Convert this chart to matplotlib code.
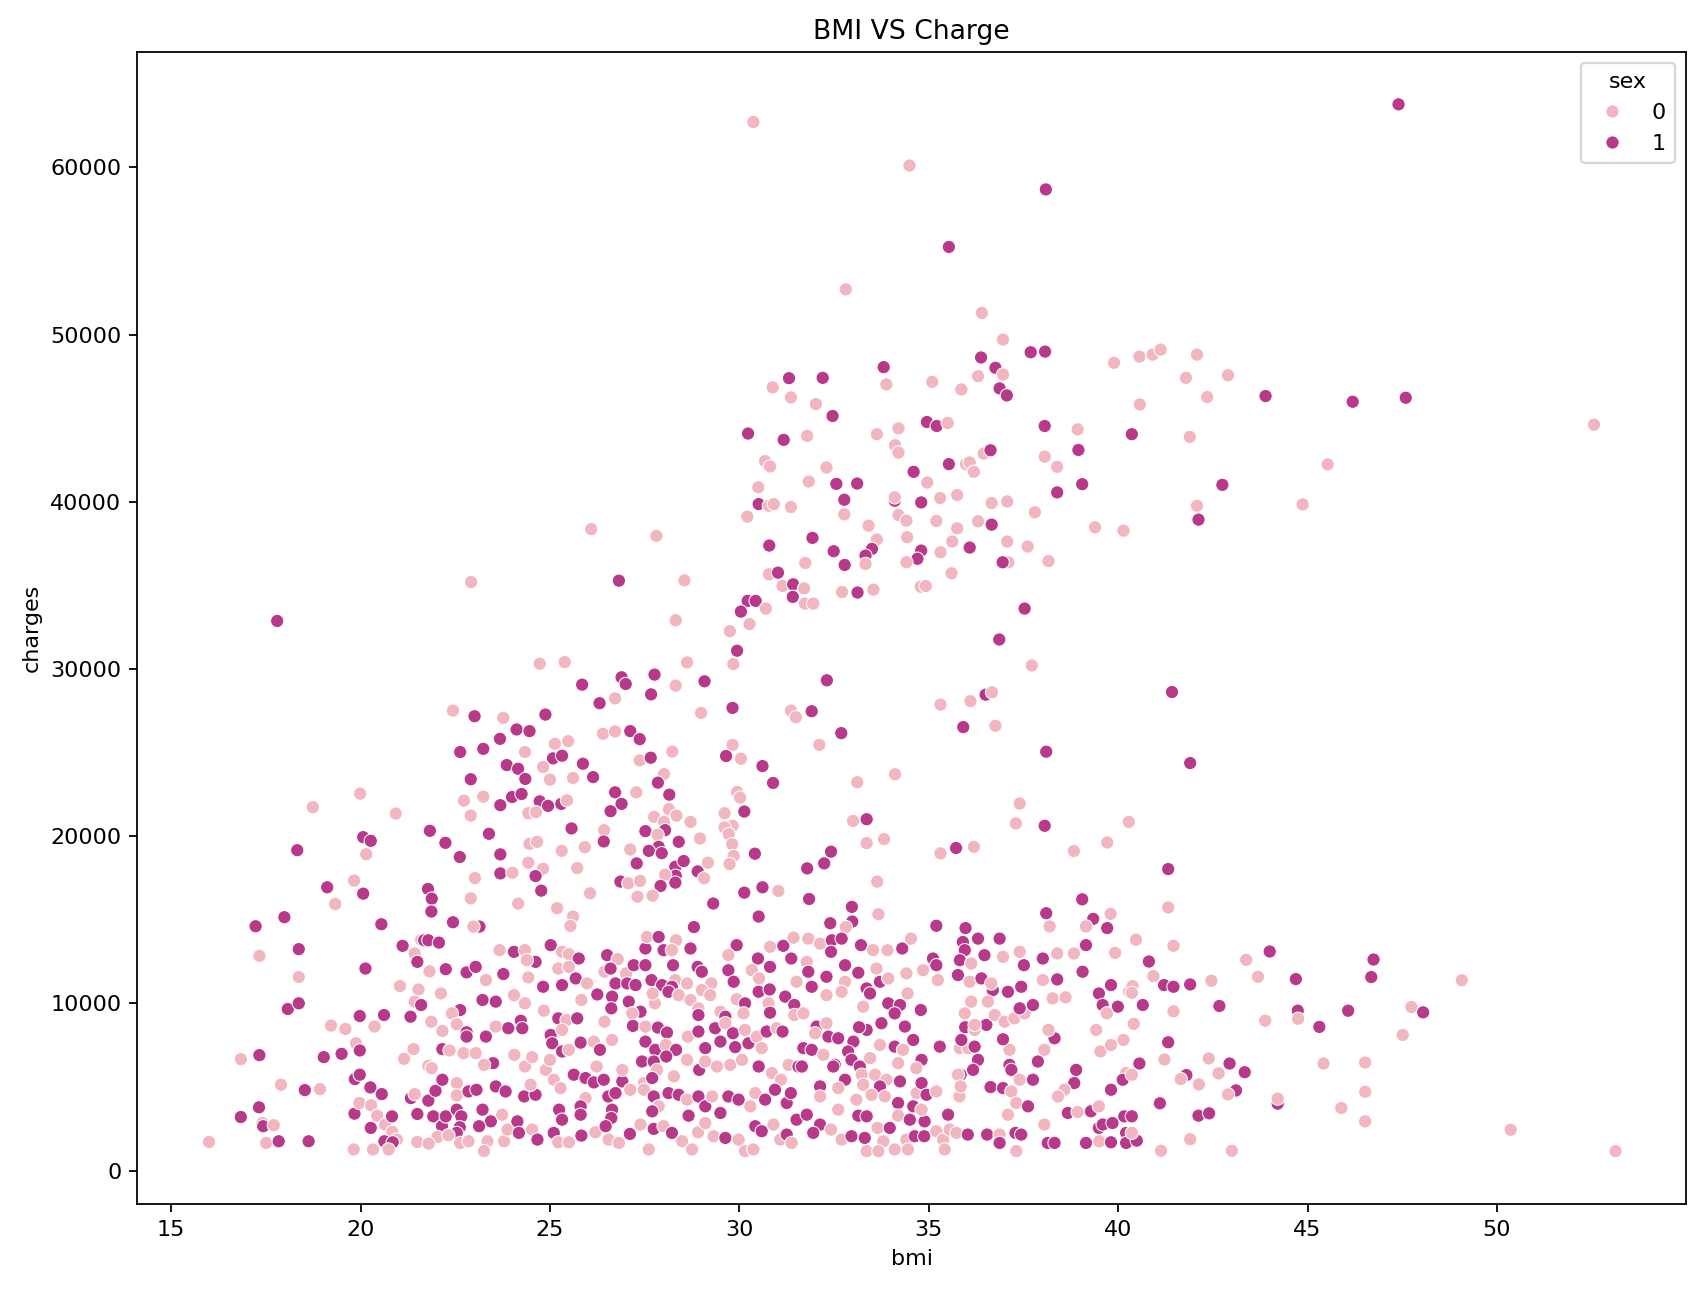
import matplotlib
matplotlib.use("Agg")
import matplotlib.pyplot as plt
import seaborn as sns
import pandas as pd

# (bmi, charges, sex), grouped by area of the plot

# charges above ~36000
upper_points = [
    (30.37, 62710, 0), (34.49, 60110, 0), (38.09, 58680, 1), (35.53, 55240, 1),
    (32.81, 52700, 0), (36.40, 51290, 0), (36.96, 49700, 0), (37.69, 48940, 1),
    (38.07, 48980, 1), (36.38, 48630, 1), (36.76, 48010, 1), (36.96, 47610, 0),
    (36.30, 47510, 0), (36.87, 46780, 1), (37.06, 46360, 1), (35.86, 46720, 0),
    (35.09, 47170, 0), (33.81, 48050, 1), (33.88, 47020, 0), (31.31, 47390, 1),
    (32.20, 47410, 1), (30.88, 46840, 0), (31.36, 46240, 0), (32.02, 45840, 0),
    (32.46, 45130, 1), (30.23, 44080, 1), (31.17, 43700, 1), (31.79, 43940, 0),
    (33.63, 44040, 0), (34.20, 44390, 0), (34.95, 44770, 1), (35.21, 44530, 1),
    (35.50, 44710, 0), (34.11, 43380, 0), (34.20, 42940, 0), (30.68, 42430, 0),
    (30.81, 42110, 0), (32.30, 42050, 0), (30.50, 40860, 0), (31.83, 41210, 0),
    (32.56, 41070, 1), (33.11, 41090, 1), (32.77, 40120, 1), (30.51, 39860, 1),
    (30.78, 39760, 0), (30.91, 39860, 0), (31.36, 39680, 0), (30.21, 39110, 0),
    (32.77, 39250, 0), (34.60, 41790, 1), (34.96, 41150, 0), (35.53, 42250, 1),
    (35.98, 42250, 0), (36.08, 42350, 0), (36.19, 41790, 0), (36.45, 42880, 0),
    (36.63, 43080, 1), (34.10, 40060, 1), (34.10, 40260, 0), (34.80, 39960, 1),
    (35.30, 40220, 0), (35.75, 40400, 0), (34.20, 39210, 0), (34.41, 38870, 0),
    (35.20, 38850, 0), (35.75, 38410, 0), (36.30, 38830, 0), (36.66, 38630, 1),
    (36.66, 39920, 0), (37.07, 40020, 0), (37.80, 39370, 0), (38.06, 44530, 1),
    (38.93, 44330, 0), (38.06, 42700, 0), (38.39, 42090, 0), (38.95, 43100, 1),
    (38.39, 40560, 1), (39.05, 41050, 1), (39.39, 38470, 0), (40.14, 38270, 0),
    (39.89, 48310, 0), (40.56, 48680, 0), (40.91, 48800, 0), (41.12, 49100, 0),
    (42.08, 48800, 0), (41.79, 47410, 0), (40.57, 45820, 0), (40.36, 44040, 1),
    (41.89, 43880, 0), (42.08, 39760, 0), (42.12, 38930, 1), (33.41, 38570, 0),
    (33.63, 37740, 0), (33.50, 37180, 1), (33.33, 36780, 1), (33.33, 36280, 0),
    (34.43, 37880, 0), (34.80, 37080, 1), (34.70, 36590, 1), (35.31, 36980, 0),
    (35.62, 37620, 0), (36.08, 37260, 1), (37.07, 37620, 0), (37.61, 37320, 0),
    (38.16, 36450, 0), (30.79, 37380, 1), (31.93, 37840, 1), (32.49, 37040, 1),
    (32.78, 36220, 1), (31.74, 36340, 0), (34.41, 36380, 0), (37.10, 36380, 0),
    (36.95, 36380, 1),
    (47.40, 63770, 1), (42.90, 47570, 0), (42.35, 46260, 0), (43.89, 46320, 1),
    (46.19, 45980, 1), (47.59, 46220, 1), (52.56, 44610, 0), (45.53, 42230, 0),
    (42.75, 41010, 1), (44.87, 39840, 0),
]

# bmi below ~28.5, charges 14500 - 38500
mid_left_points = [
    (22.92, 35200, 0), (26.09, 38360, 0), (27.81, 37960, 0), (26.82, 35280, 1),
    (17.80, 32870, 1), (28.32, 32910, 0), (24.73, 30310, 0), (25.39, 30410, 0),
    (25.85, 29060, 1), (26.89, 29500, 1), (27.00, 29100, 1), (27.76, 29660, 1),
    (28.32, 29000, 0), (26.31, 27950, 1), (26.72, 28240, 0), (27.67, 28480, 1),
    (22.44, 27510, 0), (23.01, 27170, 1), (23.77, 27070, 0), (24.88, 27270, 1),
    (24.12, 26380, 1), (24.46, 26280, 1), (23.68, 25820, 1), (26.40, 26120, 0),
    (26.72, 26260, 0), (27.12, 26280, 1), (27.37, 25800, 1), (25.13, 25520, 0),
    (25.48, 25680, 0), (22.63, 25030, 1), (23.24, 25220, 1), (24.34, 25030, 0),
    (25.08, 24650, 1), (25.32, 24810, 1), (28.23, 25060, 0), (27.37, 24530, 0),
    (27.66, 24690, 1), (23.86, 24250, 1), (24.16, 24030, 1), (24.82, 24130, 0),
    (25.87, 24330, 1), (24.35, 23420, 1), (25.00, 23380, 0), (25.61, 23480, 0),
    (26.14, 23530, 1), (28.01, 23710, 0), (22.91, 23400, 1), (27.85, 23200, 1),
    (28.15, 22480, 1), (26.72, 22620, 1), (27.28, 22620, 0), (22.73, 22120, 0),
    (23.24, 22360, 0), (23.69, 21850, 1), (24.00, 22340, 1), (24.25, 22520, 1),
    (24.73, 22080, 1), (24.95, 21810, 1), (25.30, 21930, 1), (25.45, 22140, 0),
    (26.89, 21930, 1), (26.60, 21490, 1), (28.14, 21610, 0), (24.43, 21370, 0),
    (24.63, 21430, 0), (22.91, 21230, 0), (27.75, 21150, 0), (28.34, 21230, 0),
    (28.01, 20850, 0), (19.99, 22540, 0), (18.74, 21730, 0), (20.93, 21350, 0),
    (21.83, 20320, 1), (23.39, 20140, 1), (25.57, 20460, 1), (26.43, 20360, 0),
    (27.52, 20300, 1), (28.04, 20360, 1), (27.84, 20080, 0), (20.07, 19940, 1),
    (20.27, 19720, 1), (22.24, 19600, 1), (24.46, 19540, 0), (24.66, 19660, 0),
    (26.42, 19680, 1), (28.40, 19660, 1), (27.87, 19360, 1), (18.33, 19160, 1),
    (20.15, 18920, 0), (22.62, 18750, 1), (23.69, 18910, 1), (25.31, 19120, 0),
    (25.92, 19340, 0), (27.12, 19200, 0), (27.61, 19120, 1), (27.95, 18980, 1),
    (27.29, 18370, 1), (24.43, 18410, 0), (24.82, 18050, 0), (25.72, 18090, 0),
    (23.69, 17770, 1), (24.01, 17810, 0), (24.62, 17610, 1), (23.02, 17490, 0),
    (28.31, 18170, 1), (28.32, 17630, 1), (28.04, 17690, 0), (26.86, 17280, 1),
    (27.07, 17180, 0), (27.38, 17320, 0), (27.92, 17020, 1), (28.31, 17220, 1),
    (24.77, 16740, 1), (26.06, 16580, 0), (27.31, 16380, 0), (27.71, 16440, 0),
    (19.83, 17340, 0), (19.12, 16940, 1), (20.07, 16560, 1), (19.33, 15940, 0),
    (21.78, 16840, 1), (21.88, 16260, 1), (21.87, 15490, 1), (22.91, 16280, 0),
    (24.16, 15960, 0), (25.19, 15690, 0), (25.61, 15190, 0), (25.54, 14630, 0),
    (17.99, 15150, 1), (17.23, 14610, 1), (20.55, 14730, 1), (22.44, 14850, 1),
    (23.14, 14590, 1), (22.98, 14590, 0),
]

# bmi above ~28.5, charges 14500 - 36000
mid_right_points = [
    (28.55, 35300, 0), (30.78, 35660, 0), (31.02, 35760, 1), (31.14, 34960, 0),
    (31.42, 35060, 1), (31.71, 34820, 0), (31.41, 34310, 1), (31.73, 33910, 0),
    (31.95, 33910, 0), (32.71, 34600, 0), (33.12, 34570, 1), (33.54, 34740, 0),
    (34.79, 34920, 0), (34.92, 34960, 0), (35.60, 35720, 0), (30.22, 34070, 1),
    (30.43, 34070, 1), (30.04, 33430, 1), (30.70, 33610, 0), (29.75, 32260, 0),
    (30.27, 32680, 0), (37.53, 33610, 1), (36.86, 31760, 1), (37.72, 30210, 0),
    (29.94, 31090, 1), (28.62, 30390, 0), (29.84, 30290, 0), (29.08, 29260, 1),
    (32.31, 29320, 1), (29.82, 27670, 1), (28.99, 27370, 0), (31.36, 27510, 0),
    (31.49, 27110, 0), (31.91, 27470, 1), (32.69, 26160, 1), (32.11, 25460, 0),
    (35.31, 27870, 0), (36.10, 28070, 0), (36.50, 28460, 1), (36.67, 28600, 0),
    (35.91, 26520, 1), (36.76, 26600, 0), (41.42, 28620, 1), (38.10, 25050, 1),
    (41.90, 24370, 1), (29.82, 25460, 0), (29.65, 24790, 1), (30.04, 24630, 0),
    (30.61, 24190, 1), (30.89, 23180, 1), (33.11, 23220, 0), (34.11, 23700, 0),
    (29.94, 22640, 0), (30.02, 22310, 0), (30.13, 21470, 1), (29.61, 21370, 0),
    (28.71, 20850, 0), (29.82, 20620, 0), (29.61, 20520, 0), (29.72, 20120, 0),
    (28.96, 19860, 0), (29.81, 19520, 0), (29.85, 18810, 0), (29.74, 18330, 0),
    (29.17, 18410, 0), (28.53, 18510, 1), (28.90, 17890, 1), (29.07, 17480, 0),
    (30.41, 18950, 1), (33.00, 20910, 0), (33.36, 21010, 1), (33.36, 19580, 0),
    (33.82, 19820, 0), (32.42, 19070, 1), (32.24, 18370, 1), (31.79, 18070, 1),
    (33.64, 17280, 0), (35.31, 18970, 0), (35.72, 19290, 1), (36.19, 19360, 0),
    (37.40, 21950, 0), (37.30, 20760, 0), (38.06, 20620, 1), (40.28, 20850, 0),
    (38.83, 19110, 0), (39.71, 19620, 0), (41.32, 18030, 1), (30.13, 16620, 1),
    (30.61, 16940, 1), (31.03, 16720, 0), (29.31, 15970, 1), (31.84, 16240, 1),
    (30.51, 15190, 1), (32.97, 15770, 1), (33.67, 15330, 0), (28.80, 14560, 1),
    (39.05, 16220, 1), (38.10, 15390, 1), (39.80, 15350, 0), (41.32, 15730, 0),
    (39.34, 15050, 1), (32.40, 14790, 1), (32.98, 14890, 1), (32.81, 14560, 0),
    (35.20, 14640, 1), (35.97, 14500, 1), (38.19, 14600, 0), (39.15, 14600, 0),
    (39.71, 14500, 1),
]

# charges below ~14500, bmi under 23
low_left_points = [
    (18.37, 13240, 1), (17.33, 12840, 0), (18.37, 11570, 0), (20.13, 12080, 1),
    (18.08, 9660, 1), (18.37, 10000, 1), (21.11, 13440, 1), (21.43, 12980, 0),
    (21.50, 12480, 1), (21.60, 13790, 0), (21.68, 13770, 1), (21.79, 13770, 1),
    (22.07, 13630, 1), (21.82, 11910, 0), (22.25, 12040, 1), (22.80, 11850, 1),
    (21.04, 11030, 0), (21.53, 10830, 0), (22.12, 10590, 0), (21.43, 10100, 0),
    (21.60, 9900, 1), (22.63, 9600, 1), (22.41, 9400, 0), (19.98, 9240, 1),
    (20.62, 9300, 1), (21.32, 9200, 1), (21.87, 8900, 0), (22.54, 8750, 0),
    (22.80, 8270, 1), (22.80, 8010, 1), (19.22, 8670, 0), (19.60, 8470, 0),
    (20.37, 8610, 0), (22.16, 8350, 0), (19.88, 7610, 0), (19.98, 7180, 1),
    (19.50, 6980, 1), (19.03, 6780, 1), (17.33, 6900, 1), (16.84, 6660, 0),
    (21.40, 7260, 0), (21.15, 6680, 0), (22.16, 7260, 1), (22.35, 7180, 0),
    (22.72, 7020, 0), (21.79, 6260, 0), (21.88, 6120, 0), (19.85, 5470, 1),
    (19.98, 5730, 1), (20.26, 4970, 1), (20.56, 4570, 1), (21.33, 4330, 1),
    (21.43, 4570, 0), (21.79, 4180, 1), (21.98, 4770, 1), (22.16, 5430, 1),
    (22.54, 5230, 0), (22.54, 4490, 0), (22.85, 4730, 1), (17.90, 5130, 0),
    (18.53, 4810, 1), (18.93, 4870, 0), (17.32, 3780, 1), (16.84, 3200, 1),
    (17.41, 2840, 0), (17.43, 2650, 1), (17.71, 2710, 0), (16.00, 1710, 0),
    (17.51, 1650, 0), (17.84, 1750, 1), (18.63, 1750, 1), (19.84, 3400, 1),
    (19.97, 4040, 0), (20.28, 3900, 0), (20.27, 2550, 1), (20.44, 3280, 0),
    (20.65, 2750, 0), (20.83, 3240, 1), (20.84, 2310, 0), (20.96, 1850, 0),
    (20.63, 1750, 1), (20.85, 1690, 1), (19.82, 1260, 0), (20.33, 1260, 0),
    (20.74, 1260, 0), (21.50, 3380, 1), (21.92, 3240, 1), (22.15, 2650, 1),
    (22.25, 3240, 1), (22.54, 3640, 1), (22.66, 3240, 1), (22.62, 2590, 1),
    (22.54, 2250, 1), (22.03, 2010, 0), (22.32, 2110, 0), (21.50, 1710, 0),
    (21.80, 1610, 0), (22.63, 1650, 0), (22.85, 1750, 0),
]

# charges below ~14500, bmi 23 - 31.6
low_mid_left_points = [
    (25.02, 13480, 1), (24.05, 13080, 1), (23.67, 13180, 0), (24.34, 13180, 0),
    (24.62, 12480, 1), (24.39, 12580, 0), (25.32, 13080, 0), (25.50, 12940, 0),
    (25.76, 12680, 1), (26.51, 12880, 1), (26.79, 12640, 0), (27.52, 13280, 1),
    (28.00, 13180, 1), (27.56, 13970, 0), (27.87, 13970, 1), (28.33, 13770, 0),
    (28.71, 13280, 1), (28.22, 13180, 0), (29.93, 13480, 1), (29.71, 12880, 0),
    (30.81, 13380, 0), (31.16, 13440, 1), (31.43, 13930, 0), (30.49, 12680, 1),
    (31.37, 12680, 1),
    (23.04, 12180, 1), (23.31, 11390, 0), (23.77, 11750, 1), (24.43, 11550, 0),
    (24.82, 10990, 1), (25.22, 12080, 0), (25.50, 12180, 0), (25.68, 11490, 1),
    (25.32, 11090, 1), (25.98, 11190, 0), (26.44, 11890, 0), (26.60, 12080, 1),
    (26.73, 11190, 1), (27.01, 11790, 0), (27.04, 11190, 1), (27.26, 11090, 1),
    (27.21, 12280, 1), (27.52, 12280, 1), (27.68, 11390, 1), (27.96, 11090, 1),
    (28.25, 12280, 1), (28.31, 11390, 0), (28.22, 10990, 1), (28.62, 11190, 0),
    (28.90, 12180, 1), (29.01, 11890, 1), (29.26, 11190, 0), (29.71, 11980, 1),
    (29.85, 11290, 1), (30.33, 11980, 0), (30.52, 11490, 0), (30.81, 12180, 1),
    (31.51, 11290, 0),
    (23.22, 10200, 1), (23.57, 10100, 1), (24.05, 10490, 0), (24.34, 10000, 0),
    (24.84, 9560, 0), (25.22, 9100, 1), (25.44, 9000, 0), (25.72, 9100, 1),
    (25.83, 10200, 0), (26.25, 10530, 1), (26.64, 10400, 1), (26.62, 9700, 1),
    (27.08, 10100, 1), (27.39, 9500, 1), (27.17, 9400, 0), (27.77, 10000, 0),
    (27.71, 10590, 0), (28.13, 10690, 1), (28.40, 10490, 0), (28.71, 10200, 0),
    (29.01, 10790, 0), (29.23, 10490, 0), (28.92, 9700, 0), (28.92, 9300, 1),
    (29.50, 9500, 0), (29.63, 9200, 1), (29.93, 10240, 0), (30.15, 10000, 1),
    (30.11, 9400, 0), (30.51, 10690, 1), (30.80, 10830, 1), (30.77, 10000, 0),
    (30.81, 9440, 1), (31.21, 10400, 1), (31.45, 9900, 1), (31.45, 9300, 0),
    (23.31, 8010, 1), (23.57, 8610, 0), (23.90, 8510, 1), (24.23, 8960, 1),
    (24.27, 8510, 1), (25.02, 8110, 1), (25.06, 7610, 1), (25.32, 8410, 0),
    (25.32, 7120, 1), (25.50, 7220, 0), (25.81, 7650, 1), (26.16, 7710, 0),
    (26.32, 7220, 1), (26.44, 8900, 0), (26.64, 7810, 0), (27.19, 8650, 1),
    (27.52, 8610, 0), (27.52, 7710, 1), (27.85, 8550, 1), (28.09, 8250, 1),
    (27.78, 7220, 1), (28.06, 7510, 0), (28.33, 7220, 1), (28.64, 8010, 0),
    (28.92, 8310, 1), (29.10, 7320, 1), (29.36, 8510, 1), (29.50, 7710, 1),
    (29.63, 8810, 0), (29.83, 8210, 1), (29.89, 7380, 1), (30.15, 8410, 0),
    (30.24, 7610, 1), (30.46, 8010, 0), (30.72, 8310, 1), (30.99, 8510, 0),
    (31.14, 8310, 1), (30.59, 7320, 0),
    (23.04, 7020, 0), (23.50, 6420, 1), (23.26, 6320, 0), (24.06, 6920, 0),
    (24.34, 6220, 0), (24.53, 6780, 0), (24.89, 6020, 0), (25.00, 6620, 0),
    (25.10, 5430, 0), (25.63, 5730, 1), (25.94, 5530, 1), (26.16, 5270, 1),
    (26.42, 5430, 1), (26.23, 6220, 0), (26.91, 5330, 1), (26.91, 6020, 0),
    (27.43, 6520, 1), (27.74, 6520, 1), (28.07, 6820, 1), (27.83, 6020, 0),
    (27.48, 5230, 0), (27.70, 5530, 1), (28.27, 5630, 0), (28.62, 6620, 0),
    (28.94, 6020, 1), (29.10, 6520, 0), (29.41, 6220, 0), (29.76, 6320, 0),
    (30.07, 6620, 0), (30.51, 6220, 1), (30.86, 5830, 0), (31.10, 5430, 0),
    (31.30, 6320, 0), (31.56, 6220, 1), (23.06, 4830, 1), (23.57, 5030, 1),
    (23.83, 4730, 1),
    (24.32, 4430, 1), (24.62, 4530, 1), (24.49, 5130, 0), (25.28, 4930, 0),
    (25.94, 4330, 0), (25.81, 3840, 1), (25.81, 3340, 1), (25.24, 3640, 1),
    (25.32, 3040, 1), (26.54, 4430, 1), (26.73, 4630, 1), (26.64, 3640, 1),
    (26.62, 3140, 1), (27.12, 4830, 0), (27.48, 4830, 0), (27.74, 4430, 1),
    (27.87, 3840, 0), (27.70, 3540, 1), (28.13, 4630, 1), (28.40, 4530, 1),
    (28.62, 4240, 0), (28.66, 3280, 1), (28.92, 4430, 1), (29.10, 3840, 1),
    (29.28, 4430, 0), (29.50, 3440, 1), (29.71, 4430, 1), (29.98, 4240, 1),
    (30.29, 3840, 0), (30.42, 4630, 0), (30.68, 4240, 1), (30.94, 4830, 1),
    (31.25, 4040, 1), (31.36, 4630, 1), (23.22, 3640, 1), (23.44, 2940, 1),
    (23.74, 3340, 0),
    (23.13, 2650, 1), (23.35, 1750, 0), (23.26, 1160, 0), (23.79, 1750, 0),
    (23.88, 2450, 0), (24.14, 2940, 1), (24.18, 2250, 1), (24.53, 2450, 0),
    (24.67, 1850, 1), (25.10, 2250, 1), (25.22, 1690, 0), (25.50, 1690, 0),
    (25.83, 2090, 1), (26.20, 2290, 0), (26.47, 2650, 1), (26.55, 1850, 0),
    (26.82, 1650, 0), (27.11, 2190, 1), (27.39, 2750, 0), (27.61, 1260, 0),
    (27.74, 2490, 1), (28.00, 2650, 0), (28.22, 2250, 1), (28.49, 1750, 0),
    (28.75, 1260, 0), (28.91, 2290, 0), (29.10, 2840, 0), (29.32, 2050, 0),
    (29.63, 1950, 1), (29.98, 1850, 0), (30.15, 1160, 0), (30.42, 2650, 1),
    (30.37, 1260, 0), (30.59, 2350, 1), (30.90, 2750, 0), (31.08, 1850, 0),
    (31.25, 2150, 1), (31.38, 1650, 0), (31.51, 3040, 1),
]

# charges below ~14500, bmi 31.6 - 40.3
low_mid_right_points = [
    (31.82, 13870, 0), (32.13, 13570, 0), (32.44, 13770, 1), (32.70, 13870, 1),
    (32.42, 13080, 1), (33.21, 13480, 1), (33.53, 13180, 0), (33.91, 13180, 0),
    (34.30, 13280, 1), (34.53, 13870, 0), (35.11, 12680, 1), (35.20, 12280, 1),
    (35.90, 13670, 1), (35.95, 13180, 1), (36.30, 13870, 1), (36.47, 12880, 1),
    (36.87, 13870, 1), (36.96, 12780, 0), (37.40, 13080, 0), (37.51, 12280, 1),
    (38.01, 12680, 1), (38.39, 12980, 0), (38.83, 12980, 0), (39.15, 13480, 1),
    (39.92, 13020, 0), (35.82, 12580, 1), (36.12, 12380, 0), (31.78, 12480, 0),
    (31.82, 11890, 1), (32.30, 11590, 1), (32.79, 12280, 1), (33.14, 11830, 1),
    (33.62, 12080, 0), (33.71, 11290, 1), (33.93, 11490, 0), (34.41, 11790, 0),
    (34.85, 11980, 0), (35.24, 11390, 0), (35.77, 11690, 1), (36.08, 11290, 0),
    (36.39, 11490, 1), (36.69, 10790, 1), (36.65, 11190, 0), (37.09, 10690, 1),
    (37.44, 10990, 1), (38.01, 11390, 0), (38.39, 11430, 1), (39.06, 11890, 1),
    (38.27, 10300, 0), (38.61, 10360, 0), (32.79, 11290, 0), (33.36, 10890, 1),
    (33.45, 10590, 1), (32.70, 10690, 0), (31.91, 10990, 1), (32.30, 10490, 0),
    (33.27, 9800, 0),
    (33.93, 10000, 1), (34.24, 9900, 1), (34.10, 9400, 1), (34.44, 10590, 0),
    (34.79, 9600, 1), (33.75, 8810, 1), (33.36, 8410, 1), (33.16, 8570, 1),
    (32.04, 8610, 1), (32.30, 8810, 0), (32.00, 8210, 0), (31.69, 9400, 0),
    (34.37, 8610, 1), (34.59, 7810, 1), (36.12, 10100, 0), (36.56, 10100, 0),
    (35.95, 9400, 0), (36.52, 8710, 1), (35.96, 8570, 1), (36.21, 8410, 0),
    (36.21, 8710, 0), (36.74, 9300, 0), (37.00, 8900, 0), (37.26, 9100, 0),
    (37.53, 9400, 0), (37.75, 9900, 1), (37.40, 9700, 1), (38.19, 8310, 0),
    (38.32, 7910, 1), (39.49, 10590, 1), (39.59, 9900, 1), (39.81, 11090, 1),
    (39.99, 9800, 1), (39.70, 9400, 0), (40.29, 10690, 0), (39.42, 8410, 0),
    (31.69, 7320, 1), (31.91, 7220, 1), (32.22, 6920, 0), (32.35, 8010, 1),
    (32.61, 7910, 1), (33.01, 7710, 1), (32.87, 7120, 1), (32.52, 6320, 1),
    (32.96, 6620, 1), (33.18, 6220, 1), (33.71, 7510, 0), (33.45, 6720, 0),
    (34.10, 7410, 1), (34.32, 7220, 0), (34.19, 6420, 0), (34.81, 6620, 1),
    (34.67, 6120, 0), (35.29, 7410, 1), (35.82, 7320, 0), (36.04, 7320, 0),
    (35.86, 7810, 1), (36.21, 7410, 1), (36.30, 6620, 1), (35.84, 5730, 1),
    (36.17, 6020, 1), (37.13, 7220, 0), (36.96, 7850, 1), (37.13, 6320, 1),
    (37.88, 6520, 1), (38.05, 7220, 0), (38.16, 8410, 0), (37.18, 6020, 1),
    (38.89, 6020, 1), (38.84, 5230, 1), (38.58, 4830, 0), (38.41, 4430, 0),
    (39.53, 7120, 0), (39.81, 7510, 0), (40.14, 7810, 0), (40.21, 5830, 0),
    (40.12, 5430, 1), (39.81, 4830, 1),
    (31.65, 6220, 1), (32.13, 5030, 1), (32.13, 4430, 0), (32.48, 6220, 1),
    (32.79, 5430, 1), (32.61, 4930, 0), (33.23, 5730, 0), (33.27, 5130, 0),
    (33.58, 5730, 0), (33.88, 5430, 0), (34.24, 5330, 1), (33.71, 5030, 1),
    (33.09, 4240, 0), (33.49, 4530, 0), (33.84, 4430, 0), (34.19, 4040, 1),
    (34.59, 3840, 1), (34.68, 4630, 0), (34.81, 5230, 1), (34.94, 4530, 1),
    (35.20, 4730, 0), (35.77, 5730, 0), (35.81, 4430, 0), (35.84, 5030, 0),
    (36.63, 4990, 1), (36.96, 4930, 1), (37.18, 4730, 0), (37.40, 5430, 0),
    (37.31, 4040, 0), (37.75, 5430, 1), (37.62, 3840, 1),
    (31.78, 3340, 1), (32.13, 2750, 1), (31.95, 2250, 1), (32.42, 2450, 0),
    (32.61, 3640, 0), (32.70, 1850, 0), (33.14, 3280, 1), (33.36, 3240, 1),
    (32.96, 2050, 1), (33.31, 1950, 1), (33.36, 1160, 0), (33.65, 2550, 0),
    (33.80, 1750, 0), (33.97, 2550, 1), (34.19, 3280, 0), (34.50, 3040, 1),
    (34.41, 1850, 0), (34.45, 1260, 0), (34.10, 1260, 0), (33.67, 1160, 0),
    (34.63, 2050, 1), (34.89, 2940, 1), (34.88, 2050, 1), (34.81, 3640, 0),
    (35.20, 2350, 0), (35.38, 1850, 0), (35.42, 1260, 0), (35.55, 2450, 0),
    (35.51, 3340, 1), (35.73, 2250, 0), (36.03, 2150, 1), (36.54, 2150, 1),
    (36.87, 2150, 0), (36.87, 1650, 1), (37.29, 2250, 1), (37.44, 2150, 1),
    (37.31, 1160, 0), (37.09, 3340, 0), (38.05, 2750, 0), (38.14, 1650, 1),
    (38.32, 1650, 1), (38.67, 3440, 1), (38.93, 3500, 0), (39.28, 3540, 1),
    (39.49, 3840, 0), (39.15, 1650, 1), (39.49, 2550, 1), (39.59, 2750, 1),
    (39.85, 2840, 1), (39.50, 1750, 0), (39.81, 1690, 1), (40.16, 3240, 1),
    (40.21, 2250, 1), (40.21, 1650, 1),
]

# charges below ~14500, bmi above 40.3
low_right_points = [
    (40.47, 13810, 0), (41.46, 13440, 0), (40.81, 12500, 1), (40.93, 11630, 0),
    (41.21, 11090, 1), (41.46, 10990, 1), (41.90, 11130, 1), (42.46, 11350, 0),
    (40.38, 11030, 0), (40.36, 10630, 0), (43.38, 12600, 0), (44.00, 13100, 1),
    (43.69, 11590, 0), (44.69, 11450, 1), (46.74, 12620, 1), (46.68, 11570, 1),
    (40.65, 9900, 1), (41.46, 9520, 0), (42.67, 9840, 1), (43.88, 8960, 0),
    (44.74, 9560, 1), (44.75, 9080, 0), (45.31, 8590, 1), (46.07, 9560, 1),
    (47.74, 9780, 0), (48.05, 9460, 1), (47.51, 8110, 0), (40.41, 8770, 0),
    (41.32, 7670, 1), (41.22, 6640, 0), (40.56, 6400, 1), (40.36, 5730, 0),
    (42.39, 6700, 0), (42.94, 6400, 1), (43.34, 5880, 1), (42.65, 5810, 0),
    (41.80, 5710, 1), (41.65, 5470, 0), (42.13, 5150, 0), (43.11, 4790, 1),
    (42.90, 4550, 0), (45.42, 6400, 0), (46.52, 6460, 0), (46.52, 4710, 0),
    (45.89, 3740, 0), (46.52, 2940, 0), (44.21, 4000, 1), (44.21, 4300, 0),
    (41.10, 4020, 1), (42.12, 3280, 1), (42.40, 3420, 1), (40.36, 3240, 1),
    (41.90, 1870, 0), (41.13, 1180, 0), (43.00, 1180, 0), (40.49, 1790, 1),
    (40.36, 2250, 0),
    (49.07, 11380, 0), (50.36, 2440, 0), (53.13, 1160, 0),
]

frames = []
for group in [upper_points, mid_left_points, mid_right_points, low_left_points,
              low_mid_left_points, low_mid_right_points, low_right_points]:
    frames.append(pd.DataFrame(group, columns=["bmi", "charges", "sex"]))
df = pd.concat(frames, ignore_index=True)

# the reference colours look like RdPu, a bit desaturated
colors = sns.color_palette("RdPu", 2, desat=0.75)

fig = plt.figure(figsize=(10.625, 8.075), dpi=160)
ax = fig.add_axes([0.0806, 0.068, 0.9112, 0.8918])

sns.scatterplot(data=df, x="bmi", y="charges", hue="sex", palette=list(colors), ax=ax)

ax.set_xlim(14.1, 54.99)
ax.set_ylim(-2011, 66903)
ax.set_title("BMI VS Charge")
sns.move_legend(ax, "upper right", title="sex")

fig.savefig("out.png", dpi=160)
